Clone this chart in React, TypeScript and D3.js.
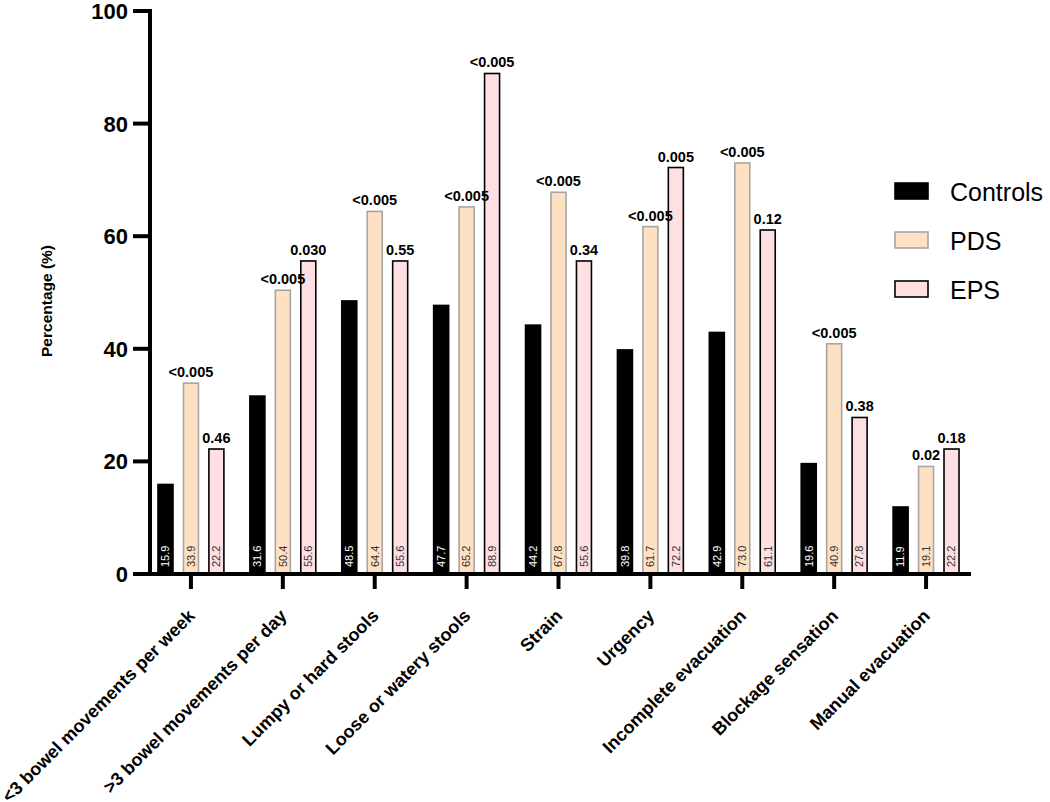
import React from "react";
import * as d3 from "d3";

const categories = [
  "<3 bowel movements per week",
  ">3 bowel movements per day",
  "Lumpy or hard stools",
  "Loose or watery stools",
  "Strain",
  "Urgency",
  "Incomplete evacuation",
  "Blockage sensation",
  "Manual evacuation",
];
const seriesNames = ["Controls", "PDS", "EPS"];
const controls = [15.9, 31.6, 48.5, 47.7, 44.2, 39.8, 42.9, 19.6, 11.9];
const pds = [33.9, 50.4, 64.4, 65.2, 67.8, 61.7, 73.0, 40.9, 19.1];
const eps = [22.2, 55.6, 55.6, 88.9, 55.6, 72.2, 61.1, 27.8, 22.2];
const pdsP = ["<0.005", "<0.005", "<0.005", "<0.005", "<0.005", "<0.005", "<0.005", "<0.005", "0.02"];
const epsP = ["0.46", "0.030", "0.55", "<0.005", "0.34", "0.005", "0.12", "0.38", "0.18"];
const yTicks = [0, 20, 40, 60, 80, 100];

const fills = ["#000000", "#FEE0C2", "#FEE0E3"];
const strokes = ["#000000", "#A6A6A6", "#000000"];
const textColors = ["#FFFFFF", "#333333", "#333333"];

const FONT = "'Liberation Sans', Arial, Helvetica, sans-serif";

export default function App() {
  const W = 1050;
  const H = 802;
  const y = d3.scaleLinear().domain([0, 100]).range([574, 11]);
  const x = d3.scaleBand<string>().domain(categories).range([145, 972]).padding(0);
  const step = x.bandwidth();
  const offset = step * 0.277;
  const barW = 15;
  const series = [controls, pds, eps];

  return (
    <svg
      width={W}
      height={H}
      style={{ position: "absolute", left: 0, top: 0, background: "#fff" }}
      fontFamily={FONT}
    >
      {/* bars */}
      {categories.map((c, i) => {
        const cx = (x(c) as number) + step / 2;
        return (
          <g key={c}>
            {series.map((s, k) => {
              const bx = cx + (k - 1) * offset;
              const top = y(s[i]);
              return (
                <g key={k}>
                  <rect
                    x={bx - barW / 2}
                    y={top}
                    width={barW}
                    height={y(0) - top}
                    fill={fills[k]}
                    stroke={strokes[k]}
                    strokeWidth={1.6}
                  />
                  <text
                    transform={`translate(${bx},${567}) rotate(-90)`}
                    dy="0.35em"
                    fontSize={11}
                    fill={textColors[k]}
                    textAnchor="start"
                  >
                    {s[i].toFixed(1)}
                  </text>
                </g>
              );
            })}
            <text
              x={cx}
              y={y(pds[i]) - 6}
              textAnchor="middle"
              fontSize={14.5}
              fontWeight="bold"
              fill="#000"
            >
              {pdsP[i]}
            </text>
            <text
              x={cx + offset}
              y={y(eps[i]) - 6}
              textAnchor="middle"
              fontSize={14.5}
              fontWeight="bold"
              fill="#000"
            >
              {epsP[i]}
            </text>
          </g>
        );
      })}

      {/* y axis */}
      <line x1={150} x2={150} y1={y(100) - 2} y2={y(0) + 2} stroke="#000" strokeWidth={4} />
      {yTicks.map((t) => (
        <g key={t}>
          <line x1={133} x2={150} y1={y(t)} y2={y(t)} stroke="#000" strokeWidth={4} />
          <text
            x={128}
            y={y(t)}
            dy="0.36em"
            textAnchor="end"
            fontSize={22}
            fontWeight="bold"
            fill="#000"
          >
            {t}
          </text>
        </g>
      ))}
      <text
        transform={`translate(${52},${301}) rotate(-90)`}
        textAnchor="middle"
        fontSize={15.5}
        fontWeight="bold"
        fill="#000"
      >
        Percentage (%)
      </text>

      {/* x axis */}
      <line x1={148} x2={971} y1={y(0)} y2={y(0)} stroke="#000" strokeWidth={4} />
      {categories.map((c) => {
        const cx = (x(c) as number) + step / 2;
        return (
          <g key={c}>
            <line x1={cx} x2={cx} y1={y(0)} y2={589} stroke="#000" strokeWidth={4} />
            <text
              transform={`translate(${cx + 5},${617}) rotate(-45)`}
              textAnchor="end"
              fontSize={18}
              fontWeight="bold"
              fill="#000"
            >
              {c}
            </text>
          </g>
        );
      })}

      {/* legend */}
      {seriesNames.map((n, k) => {
        const ly = 183 + k * 49;
        return (
          <g key={n}>
            <rect
              x={895}
              y={ly}
              width={33}
              height={16}
              fill={fills[k]}
              stroke={strokes[k]}
              strokeWidth={1.6}
            />
            <text x={950} y={ly + 17.5} fontSize={25} fill="#000">
              {n}
            </text>
          </g>
        );
      })}
    </svg>
  );
}
